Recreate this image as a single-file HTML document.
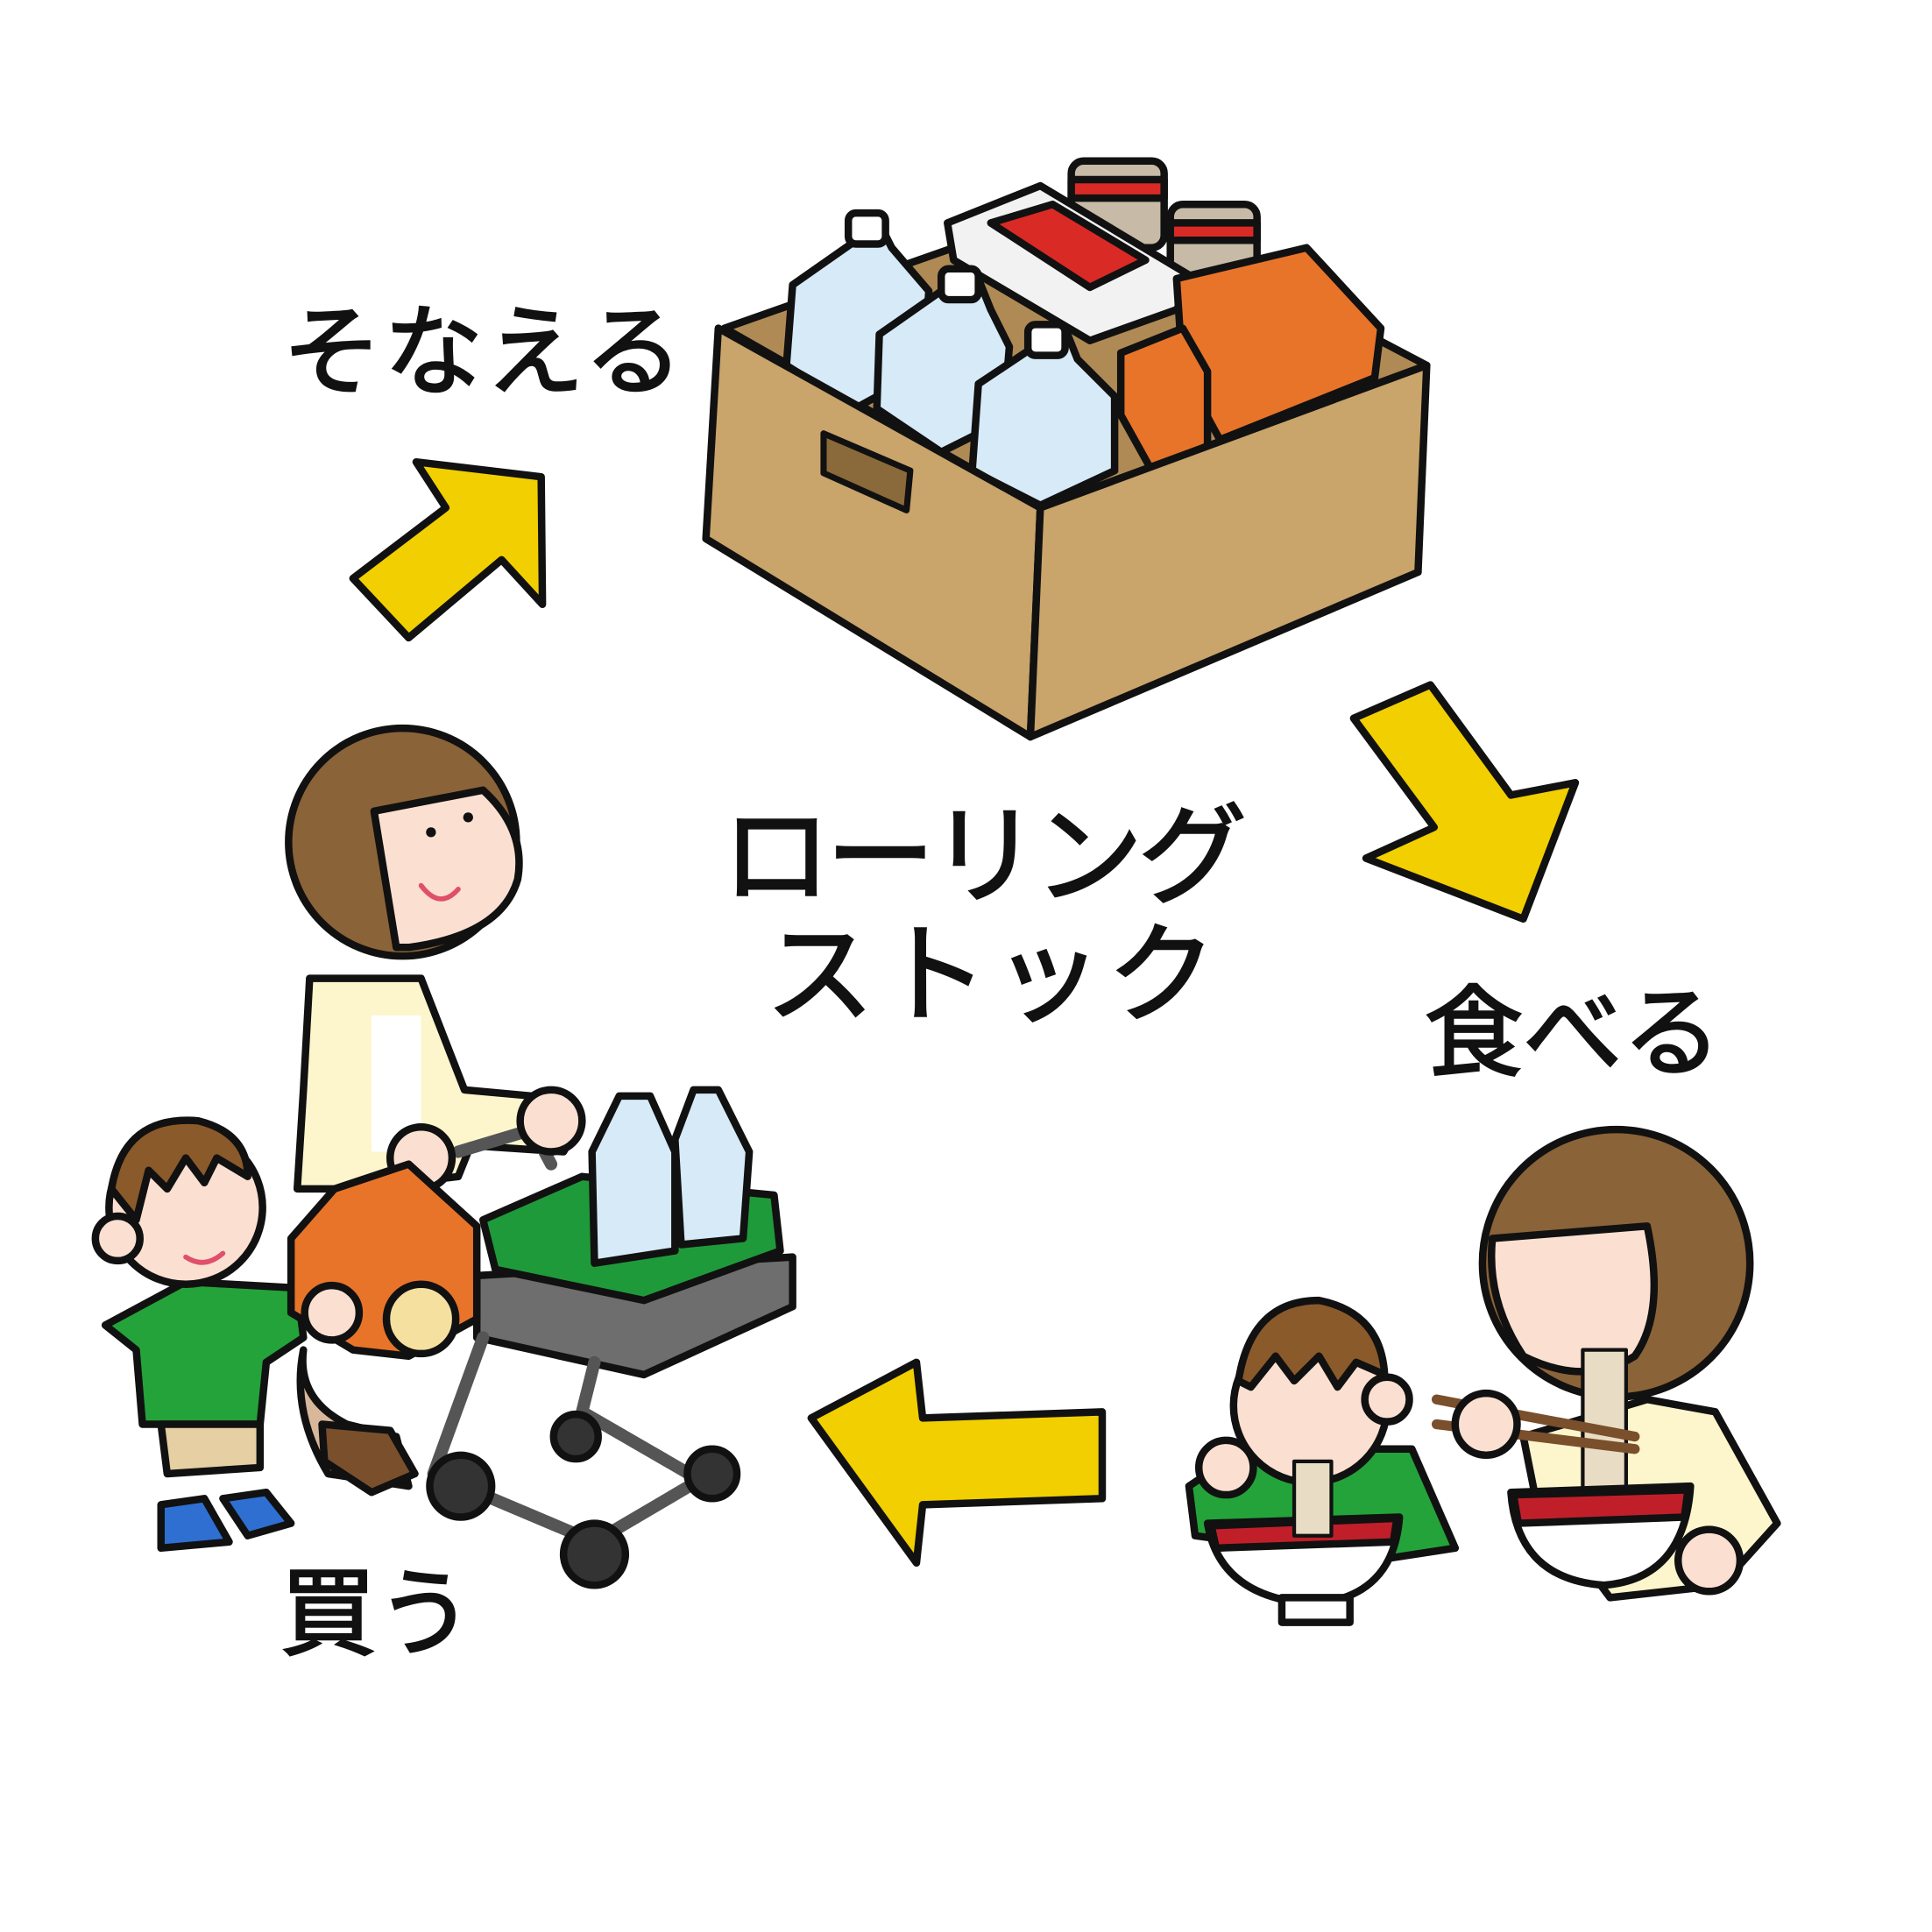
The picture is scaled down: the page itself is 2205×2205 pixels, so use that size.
<!DOCTYPE html>
<html><head><meta charset="utf-8"><style>
html,body{margin:0;padding:0;background:#fff;}
svg{display:block;}
text{font-family:"Liberation Sans","Noto Sans CJK JP",sans-serif;fill:#111;stroke:#111;stroke-width:1.8;}
</style></head><body>
<svg width="2205" height="2205" viewBox="0 0 1560 1560" xmlns="http://www.w3.org/2000/svg">
<rect width="1560" height="1560" fill="#fff"/>
<g stroke="#111" stroke-width="6" stroke-linejoin="round" stroke-linecap="round">
<polygon points="285,467 330,515 405,452 438,488 437,385 336,373 360,410" fill="#f2cf00"/>
<polygon points="1093,580 1155,553 1220,642 1272,632 1230,742 1103,693 1158,668" fill="#f2cf00"/>
<polygon points="890,1140 745,1145 740,1100 655,1145 740,1262 745,1215 890,1210" fill="#f2cf00"/>

<polygon points="585,265 770,200 1000,215 1152,295 840,410" fill="#b08a55"/>
<rect x="865" y="130" width="75" height="70" rx="10" fill="#c7bba7"/>
<rect x="865" y="145" width="75" height="15" fill="#d92a25"/>
<rect x="945" y="165" width="70" height="60" rx="10" fill="#c7bba7"/>
<rect x="945" y="180" width="70" height="14" fill="#d92a25"/>
<polygon points="765,180 840,150 965,225 950,250 880,275 770,210" fill="#f2f2f2"/>
<polygon points="800,180 850,165 925,210 880,232" fill="#d92a25"/>
<polygon points="950,225 1055,200 1115,265 1110,305 985,355 955,300" fill="#e8742a"/>
<polygon points="905,285 955,265 975,300 975,360 930,380 905,335" fill="#e8742a"/>
<polygon points="640,230 690,195 710,180 720,200 750,235 745,300 690,330 635,295" fill="#d6eaf8"/>
<polygon points="710,270 760,235 790,225 800,250 815,280 810,340 760,365 708,330" fill="#d6eaf8"/>
<polygon points="790,310 835,280 860,265 870,290 900,320 900,380 840,408 785,380" fill="#d6eaf8"/>
<rect x="685" y="172" width="30" height="25" rx="6" fill="#fff"/>
<rect x="760" y="217" width="30" height="25" rx="6" fill="#fff"/>
<rect x="830" y="262" width="30" height="25" rx="6" fill="#fff"/>
<polygon points="580,265 840,410 832,595 570,435" fill="#c9a46b"/>
<polygon points="840,410 1152,295 1145,462 832,595" fill="#c9a46b"/>
<polygon points="665,350 735,380 732,412 665,382" fill="#8a6a3a" stroke-width="5"/>

<path d="M250,790 L340,790 L375,880 L430,885 L470,905 L455,930 L380,925 L370,950 L290,960 L240,960 L245,880 Z" fill="#fdf6cc"/>
<rect x="300" y="820" width="40" height="110" fill="#fff" stroke="none"/>
<path d="M245,1090 Q240,1130 280,1150 L320,1160 L330,1200 L265,1190 Q235,1140 245,1090 Z" fill="#d8b79a"/>
<path d="M260,1150 L315,1155 L335,1190 L300,1205 L262,1180 Z" fill="#7a4f2c"/>
<circle cx="325" cy="680" r="92" fill="#8b6338"/>
<path d="M302,655 L390,638 Q425,670 418,710 Q405,755 330,765 L320,765 Z" fill="#fbe0d2"/>
<path d="M340,715 Q355,735 370,718" fill="none" stroke="#e0506a" stroke-width="4"/>
<circle cx="348" cy="672" r="4" fill="#111" stroke="none"/>
<circle cx="378" cy="660" r="4" fill="#111" stroke="none"/>

<g fill="#6e6e6e">
<polygon points="385,1030 640,1015 640,1055 520,1110 385,1080"/>
<path d="M390,1080 L350,1190 L480,1245 L565,1195 L470,1140 L480,1100" fill="none" stroke="#555" stroke-width="10"/>
<circle cx="372" cy="1200" r="25" fill="#333"/>
<circle cx="480" cy="1255" r="25" fill="#333"/>
<circle cx="575" cy="1190" r="20" fill="#333"/>
<circle cx="465" cy="1160" r="18" fill="#333"/>
</g>
<polygon points="390,985 470,950 625,965 630,1010 520,1050 400,1025" fill="#1f9a3a"/>
<polygon points="478,930 500,885 525,885 545,930 545,1010 480,1020" fill="#d6eaf8"/>
<polygon points="545,920 560,880 580,880 605,930 600,1000 550,1005" fill="#d6eaf8"/>
<path d="M370,930 L430,912 L445,940" fill="none" stroke="#555" stroke-width="10"/>
<circle cx="445" cy="905" r="25" fill="#fbe0d2"/>
<circle cx="340" cy="935" r="25" fill="#fbe0d2"/>

<path d="M85,1070 L150,1035 L240,1040 L245,1080 L215,1100 L210,1150 L115,1150 L110,1090 Z" fill="#24a33a"/>
<path d="M130,1150 L210,1150 L210,1185 L135,1190 Z" fill="#e5cfa3"/>
<path d="M130,1215 L165,1210 L185,1245 L130,1250 Z" fill="#2e6fd1"/>
<path d="M180,1210 L215,1205 L235,1230 L200,1240 Z" fill="#2e6fd1"/>
<circle cx="150" cy="975" r="62" fill="#fbe0d2"/>
<circle cx="95" cy="1000" r="18" fill="#fbe0d2"/>
<path d="M90,960 Q100,900 160,905 Q200,915 200,950 L175,935 L165,955 L150,935 L135,960 L120,945 L110,985 Z" fill="#8b5a2b"/>
<path d="M150,1015 Q165,1025 180,1012" fill="none" stroke="#e0506a" stroke-width="4"/>
<polygon points="235,1000 270,960 330,940 385,990 385,1065 330,1095 285,1090 235,1060" fill="#e8742a"/>
<circle cx="340" cy="1065" r="28" fill="#f5e0a0"/>
<circle cx="268" cy="1060" r="22" fill="#fbe0d2"/>

<path d="M960,1200 L1005,1170 L1140,1170 L1175,1250 L1110,1260 L965,1240 Z" fill="#24a33a"/>
<circle cx="1058" cy="1135" r="62" fill="#fbe0d2"/>
<circle cx="1120" cy="1130" r="18" fill="#fbe0d2"/>
<path d="M1000,1115 Q1010,1050 1065,1050 Q1115,1060 1118,1110 L1095,1100 L1080,1120 L1065,1095 L1045,1115 L1030,1095 L1010,1120 Z" fill="#8b5a2b"/>
<path d="M975,1230 L1130,1225 Q1125,1290 1060,1295 Q985,1290 975,1230 Z" fill="#fff"/>
<path d="M978,1232 L1128,1226 L1125,1245 L982,1250 Z" fill="#c01f2a"/>
<rect x="1035" y="1290" width="55" height="20" fill="#fff"/>
<rect x="1045" y="1180" width="30" height="60" fill="#e8dcc4" stroke-width="3"/>
<circle cx="990" cy="1185" r="22" fill="#fbe0d2"/>
<path d="M1230,1160 L1330,1130 L1385,1140 L1435,1230 L1390,1280 L1300,1290 L1240,1210 Z" fill="#fdf6cc"/>
<circle cx="1305" cy="1020" r="108" fill="#8b6338"/>
<path d="M1205,1000 L1330,990 Q1345,1060 1320,1095 Q1280,1120 1230,1095 Q1200,1050 1205,1000 Z" fill="#fbe0d2"/>
<rect x="1278" y="1090" width="35" height="130" fill="#e8dcc4" stroke-width="3"/>
<path d="M1160,1130 L1320,1160 M1160,1150 L1320,1170" stroke="#7a4f2c" stroke-width="8"/>
<circle cx="1200" cy="1150" r="25" fill="#fbe0d2"/>
<path d="M1220,1205 L1365,1200 Q1360,1275 1295,1280 Q1225,1275 1220,1205 Z" fill="#fff"/>
<path d="M1222,1207 L1363,1203 L1360,1225 L1226,1230 Z" fill="#c01f2a"/>
<circle cx="1380" cy="1260" r="25" fill="#fbe0d2"/>
</g>

<text x="228" y="312" font-size="80" letter-spacing="2">そなえる</text>
<text x="583" y="722" font-size="88" letter-spacing="-4">ローリング</text>
<text x="618" y="818" font-size="88" letter-spacing="4">ストック</text>
<text x="1150" y="862" font-size="80">食べる</text>
<text x="226" y="1330" font-size="78">買う</text>
</svg>
</body></html>
